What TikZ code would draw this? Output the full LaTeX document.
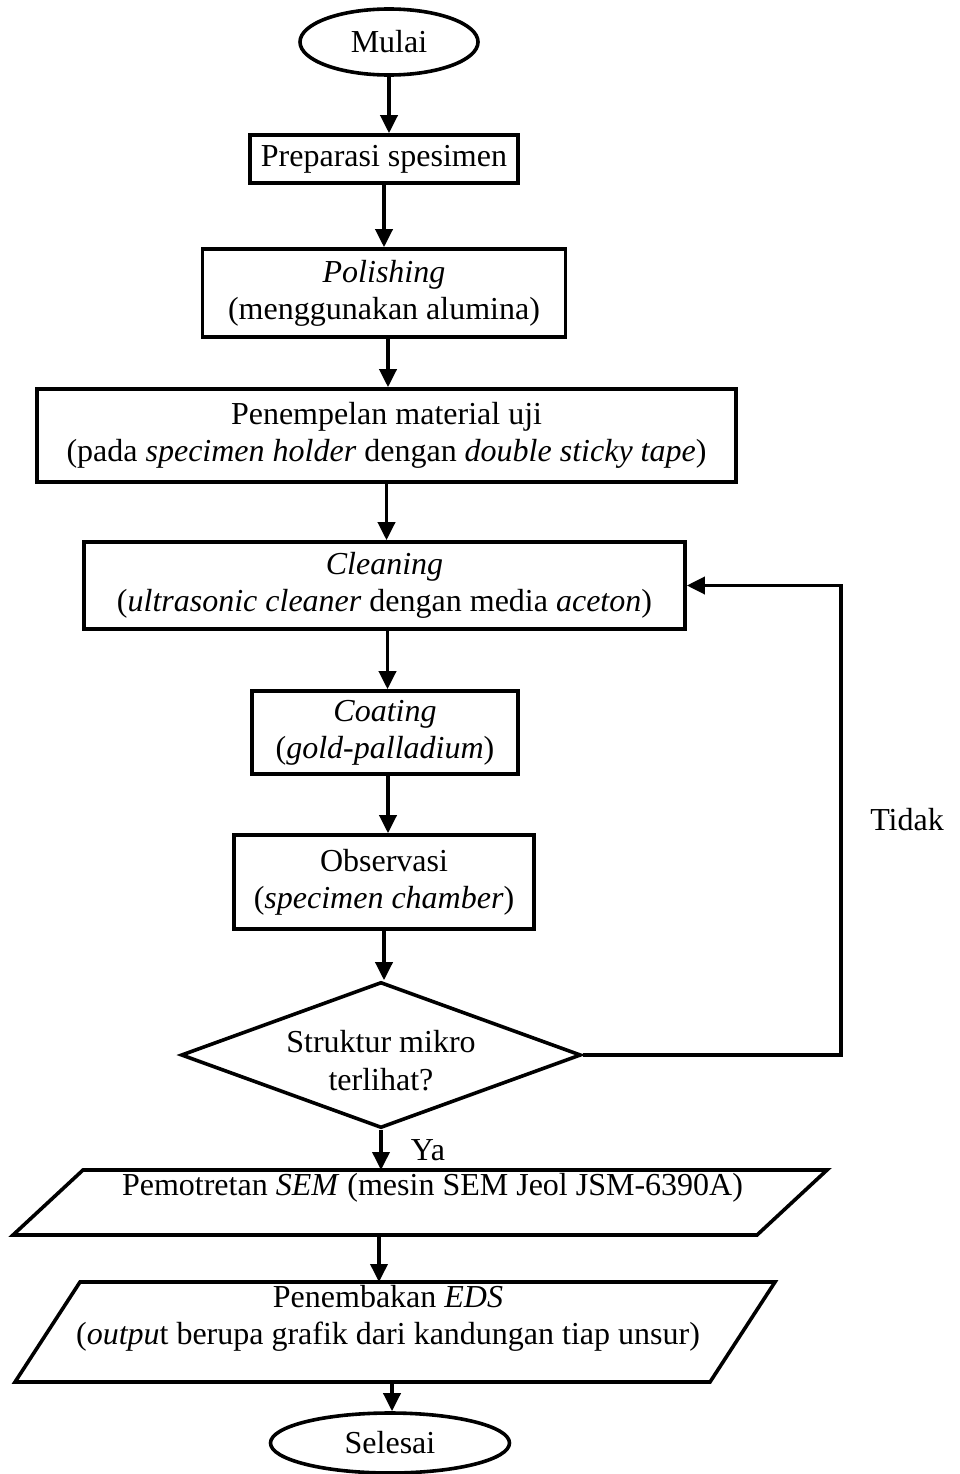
\documentclass[tikz,border=0pt]{standalone}
\usepackage{fontspec}
\setmainfont{Liberation Serif}
\usetikzlibrary{shapes.geometric,arrows.meta}
\begin{document}
\begin{tikzpicture}[x=1pt,y=-1pt,
  every node/.style={font=\fontsize{32}{37}\selectfont, inner sep=0pt, align=center},
  shp/.style={draw, line width=3.6pt},
  box/.style={shp, rectangle},
  term/.style={shp, ellipse},
  flow/.style={line width=3.6pt, -{Triangle[length=18pt,width=17pt]}},
  plain/.style={line width=3.6pt}]
\useasboundingbox (0,0) rectangle (959,1474);

% terminals and process boxes
\node[term, minimum width=178pt, minimum height=66pt] (start) at (389,42) {Mulai};
\node[box, minimum width=268pt, minimum height=48pt] (prep) at (384,159) {Preparasi spesimen};
\node[box, minimum width=363pt, minimum height=88pt] (pol) at (384,293)
  {\textit{Polishing}\\(menggunakan alumina)};
\node[box, minimum width=699pt, minimum height=93pt] (tem) at (386.5,435.5)
  {Penempelan material uji\\(pada \textit{specimen holder} dengan \textit{double sticky tape})};
\node[box, minimum width=601pt, minimum height=87pt] (clean) at (384.5,585.5)
  {\textit{Cleaning}\\(\textit{ultrasonic cleaner} dengan media \textit{aceton})};
\node[box, minimum width=266pt, minimum height=83pt] (coat) at (385,732.5)
  {\textit{Coating}\\(\textit{gold-palladium})};
\node[box, minimum width=300pt, minimum height=94pt] (obs) at (384,882)
  {Observasi\\(\textit{specimen chamber})};

% decision
\node[shp, diamond, minimum width=400pt, minimum height=146pt] (dec) at (381,1055) {};
\node[font=\fontsize{32}{38}\selectfont] (dectext) at (381,1061) {Struktur mikro\\terlihat?};

% input/output shapes
\coordinate (semtop) at (381,1170);
\coordinate (sembot) at (379,1235);
\draw[plain] (83,1170) -- (827,1170) -- (757,1235) -- (13,1235) -- cycle;
\node (sem) at (432.5,1188) {Pemotretan \textit{SEM} (mesin SEM Jeol JSM-6390A)};

\coordinate (edstop) at (379,1282);
\coordinate (edsbot) at (392,1382);
\draw[plain] (80,1282) -- (775,1282) -- (710,1382) -- (15,1382) -- cycle;
\node (eds) at (388,1318.5) {Penembakan \textit{EDS}\\(\textit{outpu}t berupa grafik dari kandungan tiap unsur)};

\node[term, minimum width=239pt, minimum height=60pt] (end) at (390,1443) {Selesai};

% connectors
\draw[flow] (start.south) -- (start.south |- prep.north);
\draw[flow] (prep.south) -- (prep.south |- pol.north);
\draw[flow] ([xshift=4pt]pol.south) -- ([xshift=4pt]pol.south |- tem.north);
\draw[flow] (tem.south) -- (tem.south |- clean.north);
\draw[flow] ([xshift=3pt]clean.south) -- ([xshift=3pt]clean.south |- coat.north);
\draw[flow] ([xshift=3pt]coat.south) -- ([xshift=3pt]coat.south |- obs.north);
\draw[flow] (obs.south) -- (obs.south |- dec.north);
\draw[flow] (dec.south) -- (semtop);
\draw[flow] (sembot) -- (edstop);
\draw[flow] (edsbot) -- (edsbot |- end.north);

% loop back when the structure is not visible
\coordinate (fbx) at (841,0);
\draw[flow] (dec.east) -| (fbx |- clean.east) -- (clean.east);

\node (tidak) at (907,820) {Tidak};
\node (ya) at (428,1150) {Ya};
\end{tikzpicture}
\end{document}
